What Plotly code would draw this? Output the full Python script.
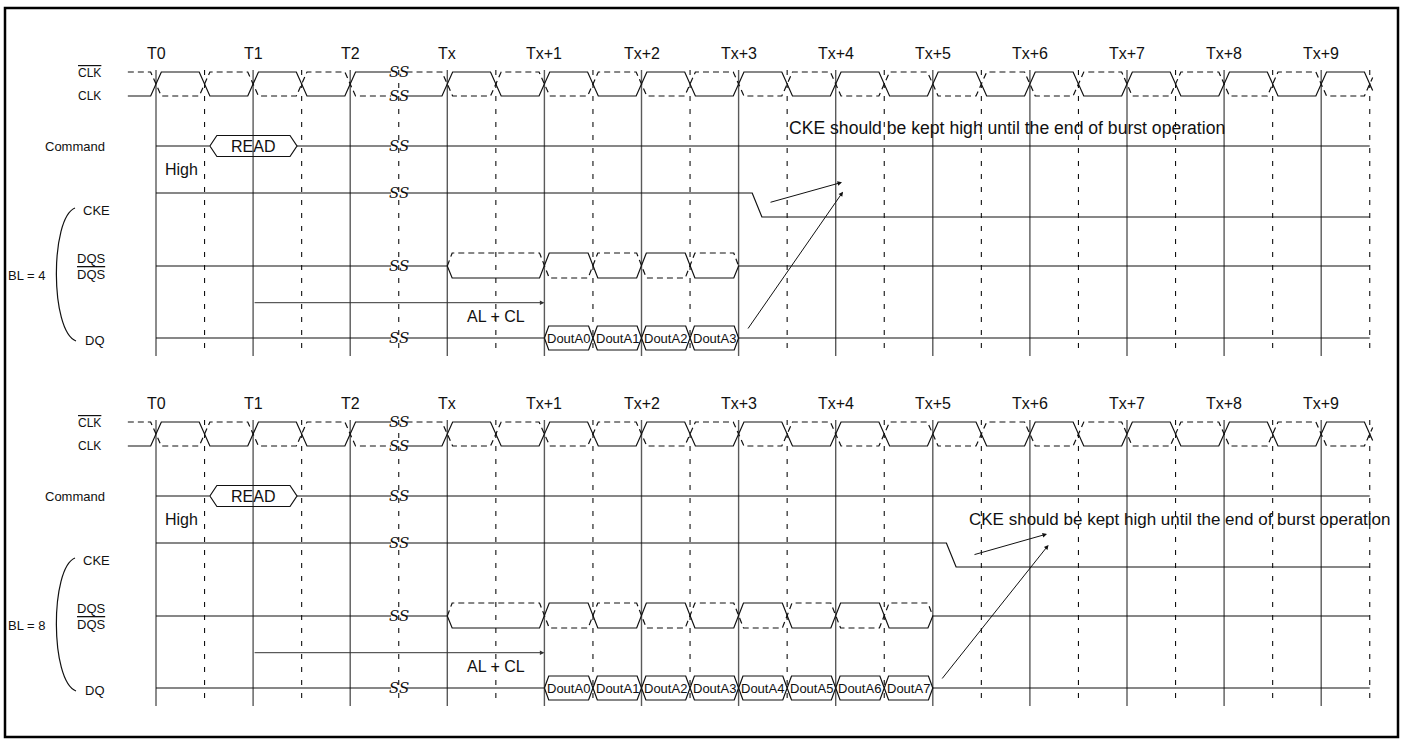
import plotly.graph_objects as go

# ---------------- data ----------------
CLOCK_LABELS = ["T0", "T1", "T2", "Tx", "Tx+1", "Tx+2", "Tx+3",
                "Tx+4", "Tx+5", "Tx+6", "Tx+7", "Tx+8", "Tx+9"]
CLOCK_CYCLES = [0, 1, 2, 3, 4, 5, 6, 7, 8, 9, 10, 11, 12]
BREAK_CYCLE = 2.5          # "SS" time break between T2 and Tx
READ_CYCLE = 1             # READ registered at T1
PREAMBLE_CYCLE = 3         # DQS leaves hi-Z at Tx
FIRST_DATA_CYCLE = 4       # first data out at Tx+1
BURST_LENGTHS = [4, 8]
DOUT_LABELS = ["DoutA0", "DoutA1", "DoutA2", "DoutA3",
               "DoutA4", "DoutA5", "DoutA6", "DoutA7"]
COMMAND_TEXT = "READ"
LATENCY_TEXT = "AL + CL"
NOTE_TEXT = "CKE should be kept high until the end of burst operation"

# ---------------- layout constants ----------------
W, H = 1405, 744
PX_T0, PX_CYCLE = 156, 97.1          # pixel of T0 and pixels per clock cycle
FONT = "Liberation Sans, Arial, sans-serif"
INK = "#111111"
GRID = "#5a5a5a"
PANEL_OFFSETS = [0, 350]

ROW = dict(tlabel=53, clk_hi=72, clk_lo=96, cmd=146, high=169,
           cke_hi=193, cke_lo=217, cke_lbl=210,
           dqs_mid=266, dqs_hi=253, dqs_lo=278, dqs_lbl_top=258, dqs_lbl_bot=274,
           lat=302.7, lat_lbl=316.7, dq=338, dq_lbl=340,
           grid_top=70, grid_bot=356)

CLK_START, CLK_END = -0.29, 12.53
SIG_END = 12.5
EDGE = 0.055      # half width of a clock edge
GAP = 0.08        # half width of the break gap


def cyc(px):
    return (px - PX_T0) / PX_CYCLE


# per panel: note text anchor/size, arrow (tail -> head) pairs
NOTES = [dict(x=cyc(787), y=128, size=17.6,
              arrows=[((cyc(769), 202.7), (cyc(842), 182.3)),
                      ((cyc(747), 330), (cyc(843), 191.7))]),
         dict(x=cyc(967), y=519, size=17,
              arrows=[((cyc(973), 555), (cyc(1047), 534)),
                      ((cyc(941), 680), (cyc(1048.5), 545))])]

fig = go.Figure()


def add_line(xs, ys, color=INK, width=1.2, dash=None):
    fig.add_trace(go.Scatter(x=xs, y=ys, mode="lines",
                             line=dict(color=color, width=width, dash=dash),
                             hoverinfo="skip", showlegend=False))


def label(x, y, text, size=13, anchor="center", over=False, family=FONT):
    fig.add_annotation(x=x, y=y, text=text, showarrow=False,
                       xanchor=anchor, yanchor="middle",
                       font=dict(family=family, size=size, color=INK,
                                 lineposition="over" if over else "none"))


def clock_wave(start_high, off):
    hi, lo = ROW["clk_hi"] + off, ROW["clk_lo"] + off
    level = start_high
    xs, ys = [CLK_START], [hi if level else lo]
    edges = [c + h for c in CLOCK_CYCLES for h in (0, 0.5)]
    for e in edges:
        y0, y1 = (hi, lo) if level else (lo, hi)
        if e == BREAK_CYCLE:
            xs += [e - GAP, None, e + GAP]
            ys += [y0, None, y1]
        elif e + EDGE > CLK_END:
            frac = (CLK_END - (e - EDGE)) / (2 * EDGE)
            xs += [e - EDGE, CLK_END]
            ys += [y0, y0 + (y1 - y0) * frac]
            break
        else:
            xs += [e - EDGE, e + EDGE]
            ys += [y0, y1]
        level = not level
    return xs, ys


def dqs_wave(end, off, solid):
    mid = ROW["dqs_mid"] + off
    hi, lo = ROW["dqs_hi"] + off, ROW["dqs_lo"] + off
    low = solid
    xs = [PREAMBLE_CYCLE, PREAMBLE_CYCLE + 0.05]
    ys = [mid, lo if low else hi]
    t = FIRST_DATA_CYCLE
    while t < end:
        y0, y1 = (lo, hi) if low else (hi, lo)
        xs += [t - 0.05, t + 0.05]
        ys += [y0, y1]
        low = not low
        t += 0.5
    xs += [end - 0.05, end]
    ys += [lo if low else hi, mid]
    return xs, ys


for p, (off, bl) in enumerate(zip(PANEL_OFFSETS, BURST_LENGTHS)):
    end = FIRST_DATA_CYCLE + bl / 2

    # clock grid
    gx, gy = [], []
    for c in CLOCK_CYCLES:
        gx += [c, c, None]
        gy += [ROW["grid_top"] + off, ROW["grid_bot"] + off, None]
    add_line(gx, gy, color=GRID, width=1.4)
    hx, hy = [], []
    for c in CLOCK_CYCLES:
        hx += [c + 0.5, c + 0.5, None]
        hy += [ROW["grid_top"] + off, ROW["grid_bot"] + off, None]
    add_line(hx, hy, color=INK, width=1.1, dash="5px,8px")

    # clock labels
    for c, t in zip(CLOCK_CYCLES, CLOCK_LABELS):
        label(c, ROW["tlabel"] + off, t, size=16)

    # CLK / CLK#
    x, y = clock_wave(False, off)
    add_line(x, y)
    x, y = clock_wave(True, off)
    add_line(x, y, dash="6px,4px")

    # Command
    cy = ROW["cmd"] + off
    a, b, s, hh = READ_CYCLE - 0.445, READ_CYCLE + 0.452, 0.072, 10.5
    add_line([0, a, None, b, BREAK_CYCLE - GAP, None, BREAK_CYCLE + GAP, SIG_END],
             [cy, cy, None, cy, cy, None, cy, cy])
    add_line([a, a + s, b - s, b, b - s, a + s, a],
             [cy, cy - hh, cy - hh, cy, cy + hh, cy + hh, cy])
    label(READ_CYCLE, cy, COMMAND_TEXT, size=16)

    # CKE
    hi, lo = ROW["cke_hi"] + off, ROW["cke_lo"] + off
    add_line([0, BREAK_CYCLE - GAP, None, BREAK_CYCLE + GAP, end + 0.14, end + 0.24, SIG_END],
             [hi, hi, None, hi, hi, lo, lo])
    label(cyc(163), ROW["high"] + off, "High", size=16, anchor="left")

    # DQS / DQS#
    mid = ROW["dqs_mid"] + off
    x, y = dqs_wave(end, off, True)
    add_line([0, BREAK_CYCLE - GAP, None, BREAK_CYCLE + GAP] + x + [SIG_END],
             [mid, mid, None, mid] + y + [mid])
    x, y = dqs_wave(end, off, False)
    add_line(x, y, dash="6px,4px")

    # AL + CL
    fig.add_annotation(x=FIRST_DATA_CYCLE, y=ROW["lat"] + off,
                       ax=READ_CYCLE, ay=ROW["lat"] + off, axref="x", ayref="y",
                       text="", showarrow=True, arrowhead=2, arrowsize=0.9,
                       arrowwidth=1, arrowcolor="#333333", standoff=0)
    label(PREAMBLE_CYCLE + 0.5, ROW["lat_lbl"] + off, LATENCY_TEXT, size=16)

    # DQ
    dq = ROW["dq"] + off
    add_line([0, BREAK_CYCLE - GAP, None, BREAK_CYCLE + GAP, FIRST_DATA_CYCLE, None, end, SIG_END],
             [dq, dq, None, dq, dq, None, dq, dq])
    bx, by = [], []
    s, hh = 0.045, 12
    for i, name in enumerate(DOUT_LABELS[:bl]):
        a = FIRST_DATA_CYCLE + i * 0.5
        b = a + 0.5
        bx += [a, a + s, b - s, b, b - s, a + s, a, None]
        by += [dq, dq - hh, dq - hh, dq, dq + hh, dq + hh, dq, None]
        label((a + b) / 2, dq, name, size=13)
    add_line(bx, by)

    # time-break marks
    for r in ["clk_hi", "clk_lo", "cmd", "cke_hi", "dqs_mid", "dq"]:
        label(BREAK_CYCLE, ROW[r] + off, "<i>SS</i>", size=15, family="DejaVu Serif, serif")

    # signal names
    label(cyc(103), ROW["clk_hi"] + off + 1, "CLK", size=12, anchor="right", over=True)
    label(cyc(103), ROW["clk_lo"] + off, "CLK", size=12, anchor="right")
    label(cyc(107), cy, "Command", size=13, anchor="right")
    label(cyc(112), ROW["cke_lbl"] + off, "CKE", size=13, anchor="right")
    label(cyc(108), ROW["dqs_lbl_top"] + off, "DQS", size=13, anchor="right")
    label(cyc(108), ROW["dqs_lbl_bot"] + off, "DQS", size=13, anchor="right", over=True)
    label(cyc(107), ROW["dq_lbl"] + off, "DQ", size=13, anchor="right")
    label(cyc(6), (ROW["cke_lbl"] + ROW["dq_lbl"]) / 2 + off, f"BL = {bl}", size=13, anchor="left")

    # bracket
    yt, yb = ROW["cke_lbl"] - 2 + off, ROW["dq_lbl"] + 1 + off
    fig.add_shape(type="path", xref="x", yref="y",
                  path=f"M {cyc(75)},{yt} C {cyc(50)},{yt + 10} {cyc(50)},{yb - 10} {cyc(76)},{yb}",
                  line=dict(color=INK, width=1.2))

    # note + arrows
    n = NOTES[p]
    label(n["x"], n["y"], NOTE_TEXT, size=n["size"], anchor="left")
    for (tx, ty), (hx_, hy_) in n["arrows"]:
        fig.add_annotation(x=hx_, y=hy_, ax=tx, ay=ty, axref="x", ayref="y",
                           text="", showarrow=True, arrowhead=2, arrowsize=0.9,
                           arrowwidth=1, arrowcolor=INK, standoff=0)

# outer frame
fig.add_shape(type="rect", xref="paper", yref="paper",
              x0=5 / W, x1=1398 / W, y0=1 - 737 / H, y1=1 - 8 / H,
              line=dict(color="black", width=2.5))

fig.update_layout(
    width=W, height=H,
    margin=dict(l=0, r=0, t=0, b=0),
    paper_bgcolor="white", plot_bgcolor="white",
    xaxis=dict(range=[cyc(0), cyc(W)], visible=False, fixedrange=True),
    yaxis=dict(range=[H, 0], visible=False, fixedrange=True),
    showlegend=False,
)

fig.write_html("out.html", config={"displayModeBar": False},
               post_script="document.body.style.margin='0px';")
